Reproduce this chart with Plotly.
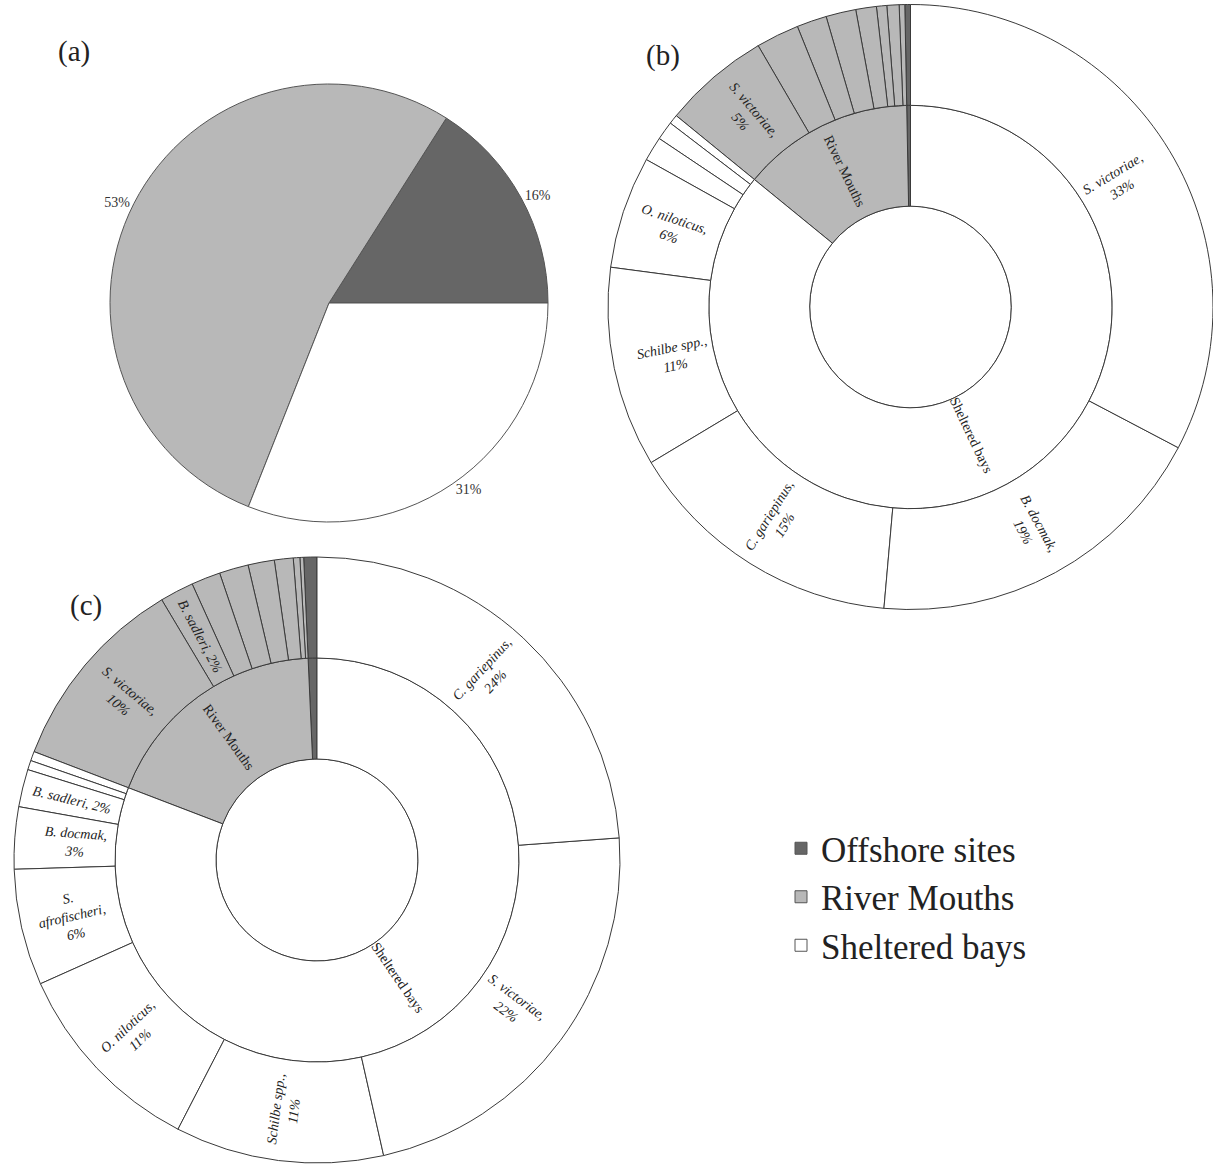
import math
import plotly.graph_objects as go

# ---------------- data ----------------
# (a) share of samples per habitat
pie_labels = ["Offshore sites", "River Mouths", "Sheltered bays"]
pie_values = [16, 53, 31]

habitat_colors = {"Offshore sites": "#666666", "River Mouths": "#b8b8b8", "Sheltered bays": "#ffffff"}

# (b) species composition, listed clockwise from 12 o'clock
b_sheltered_species = ["S. victoriae", "B. docmak", "C. gariepinus", "Schilbe spp.", "O. niloticus",
                       "other sp. 1", "other sp. 2", "other sp. 3"]
b_sheltered_values = [32.7, 18.7, 15.0, 10.7, 6.0, 1.3, 1.0, 0.5]
b_sheltered_text = ["S. victoriae,<br>33%", "B. docmak,<br>19%", "C. gariepinus,<br>15%",
                    "Schilbe spp.,<br>11%", "O. niloticus,<br>6%", "", "", ""]
b_river_species = ["S. victoriae", "other sp. 4", "other sp. 5", "other sp. 6", "other sp. 7",
                   "other sp. 8", "other sp. 9", "other sp. 10"]
b_river_values = [5.7, 2.3, 1.6, 1.6, 1.1, 0.55, 0.65, 0.3]
b_river_text = ["S. victoriae,<br>5%", "", "", "", "", "", "", ""]
b_offshore_species = ["offshore sp."]
b_offshore_values = [0.3]

# (c) species composition, listed clockwise from 12 o'clock
c_sheltered_species = ["C. gariepinus", "S. victoriae", "Schilbe spp.", "O. niloticus", "S. afrofischeri",
                       "B. docmak", "B. sadleri", "other sp. 1", "other sp. 2"]
c_sheltered_values = [23.8, 22.6, 11.1, 10.7, 6.2, 3.3, 2.0, 0.5, 0.5]
c_sheltered_text = ["C. gariepinus,<br>24%", "S. victoriae,<br>22%", "Schilbe spp.,<br>11%",
                    "O. niloticus,<br>11%", "S.<br>afrofischeri,<br>6%", "B. docmak,<br>3%",
                    "B. sadleri, 2%", "", ""]
c_river_species = ["S. victoriae", "B. sadleri", "other sp. 3", "other sp. 4", "other sp. 5",
                   "other sp. 6", "other sp. 7", "other sp. 8"]
c_river_values = [10.6, 1.8, 1.55, 1.55, 1.4, 1.0, 0.35, 0.2]
c_river_text = ["S. victoriae,<br>10%", "B. sadleri, 2%", "", "", "", "", "", ""]
c_offshore_species = ["offshore sp."]
c_offshore_values = [0.7]

W, H = 1213, 1164
LINE = "#3a3a3a"
FONT = "Liberation Serif"
TXT = "#222222"


def px_domain(x0, x1, y0, y1):
    """pixel box (top-left origin) -> paper domain"""
    return dict(x=[max(0, x0 / W), min(1, x1 / W)], y=[max(0, 1 - y1 / H), min(1, 1 - y0 / H)])


def crosses_horizontal(a0, a1):
    return (a0 < 90 < a1) or (a0 < 270 < a1)


def radial_label(text, theta, r_frac, dom, italic=True):
    """Place a label radially (Excel style) at clockwise angle theta (deg from 12 o'clock)."""
    x0, x1 = dom["x"][0] * W, dom["x"][1] * W
    y0, y1 = (1 - dom["y"][1]) * H, (1 - dom["y"][0]) * H
    cx, cy = (x0 + x1) / 2, (y0 + y1) / 2
    R = min(x1 - x0, y1 - y0) / 2
    r = r_frac * R
    px = cx + r * math.sin(math.radians(theta))
    py = cy - r * math.cos(math.radians(theta))
    ang = theta - 90 if theta < 180 else theta - 270
    return dict(text=text,
                x=px / W, y=1 - py / H, xref="paper", yref="paper",
                xanchor="center", yanchor="middle", showarrow=False, textangle=ang,
                font=dict(family=FONT, size=14, color=TXT, style="italic" if italic else "normal"),
                align="center")


def build_sunburst(groups, domain):
    """groups: list of (habitat, species, values, texts, inner_text) in clockwise order."""
    total = sum(sum(g[2]) for g in groups)
    ids, labels, parents, values, colors, texts = ["root"], [""], [""], [total], ["#ffffff"], [""]
    notes = []
    # angular extent (clockwise from 12 o'clock) of every sector
    span = {}
    acc = 0.0
    for hab, species, vals, txt, inner in groups:
        h0 = acc * 360 / total
        for s, v, t in zip(species, vals, txt):
            a0, a1 = acc * 360 / total, (acc + v) * 360 / total
            span[hab + "/" + s] = (a0, a1)
            # plotly would snap labels of sectors spanning 3/9 o'clock to horizontal
            if t and crosses_horizontal(a0, a1):
                notes.append(radial_label(t, (a0 + a1) / 2, 0.8, domain))
            acc += v
        h1 = acc * 360 / total
        span[hab] = (h0, h1)
        if inner and crosses_horizontal(h0, h1):
            notes.append(radial_label(inner, (h0 + h1) / 2, 0.47, domain, italic=False))

    # plotly lays sectors out counterclockwise -> reverse order
    for hab, species, vals, txt, inner in reversed(groups):
        ids.append(hab)
        labels.append(hab)
        parents.append("root")
        values.append(sum(vals))
        colors.append(habitat_colors[hab])
        texts.append("" if crosses_horizontal(*span[hab]) else inner)
        for s, v, t in reversed(list(zip(species, vals, txt))):
            pid = hab + "/" + s
            ids.append(pid)
            labels.append(s)
            parents.append(hab)
            values.append(v)
            colors.append(habitat_colors[hab])
            texts.append("<i>" + t + "</i>" if t and not crosses_horizontal(*span[pid]) else "")

    trace = go.Sunburst(
        ids=ids, labels=labels, parents=parents, values=values,
        branchvalues="total", sort=False, rotation=90,
        text=texts, texttemplate="%{text}",
        insidetextorientation="radial",
        insidetextfont=dict(family=FONT, size=14, color=TXT),
        marker=dict(colors=colors, line=dict(color=LINE, width=1)),
        leaf=dict(opacity=1),
        domain=domain, hoverinfo="label+value",
    )
    return trace, notes


fig = go.Figure()

fig.add_trace(go.Pie(
    labels=pie_labels, values=pie_values, sort=False,
    direction="counterclockwise", rotation=90 - 360 * pie_values[0] / sum(pie_values),
    marker=dict(colors=[habitat_colors[l] for l in pie_labels], line=dict(color="#555555", width=1)),
    textinfo="percent", texttemplate="%{percent:.0%}",
    textposition="outside",
    outsidetextfont=dict(family=FONT, size=14, color="#333333"),
    domain=px_domain(110, 548, 84, 522),
    showlegend=True,
))

dom_b = px_domain(608, 1214, 4, 610)
tr_b, notes_b = build_sunburst([
    ("Sheltered bays", b_sheltered_species, b_sheltered_values, b_sheltered_text, "Sheltered bays"),
    ("River Mouths", b_river_species, b_river_values, b_river_text, "River Mouths"),
    ("Offshore sites", b_offshore_species, b_offshore_values, [""], ""),
], dom_b)
fig.add_trace(tr_b)

dom_c = px_domain(14, 620, 557, 1163)
tr_c, notes_c = build_sunburst([
    ("Sheltered bays", c_sheltered_species, c_sheltered_values, c_sheltered_text, "Sheltered bays"),
    ("River Mouths", c_river_species, c_river_values, c_river_text, "River Mouths"),
    ("Offshore sites", c_offshore_species, c_offshore_values, [""], ""),
], dom_c)
fig.add_trace(tr_c)

for n in notes_b + notes_c:
    fig.add_annotation(**n)

for txt, x, y in [("(a)", 74, 52), ("(b)", 663, 55), ("(c)", 86, 605)]:
    fig.add_annotation(text=txt, x=x / W, y=1 - y / H, xref="paper", yref="paper",
                       xanchor="center", yanchor="middle",
                       showarrow=False, font=dict(family=FONT, size=29, color=TXT))

fig.update_layout(
    width=W, height=H,
    margin=dict(l=0, r=0, t=0, b=0),
    paper_bgcolor="white", plot_bgcolor="white",
    font=dict(family=FONT, color=TXT),
    legend=dict(x=781 / W, y=1 - 819 / H, xanchor="left", yanchor="top",
                font=dict(family=FONT, size=35, color=TXT),
                itemwidth=30, tracegroupgap=0, bgcolor="rgba(0,0,0,0)"),
)

fig.write_html("out.html", config={"displayModeBar": False},
               post_script="document.body.style.margin='0px';")
